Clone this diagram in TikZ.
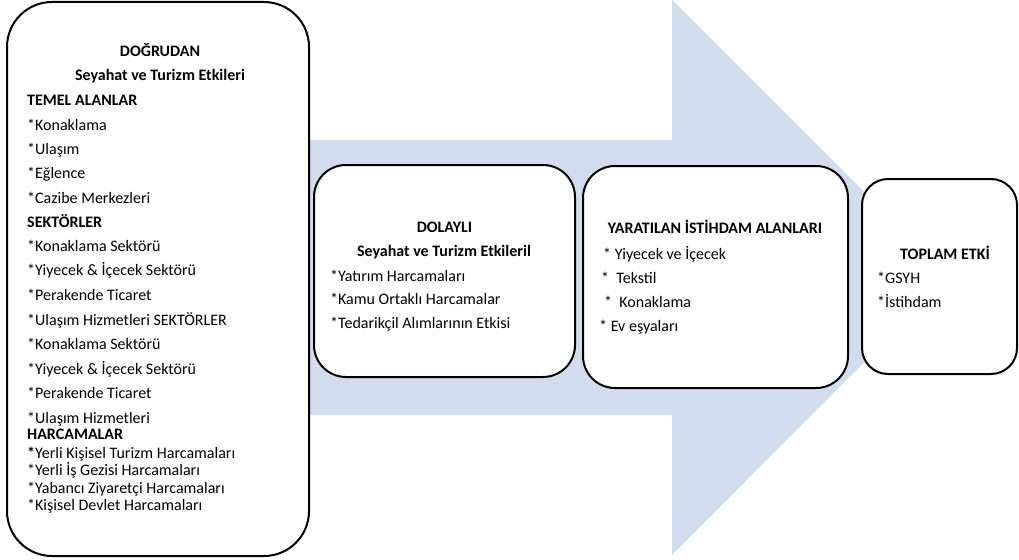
\documentclass[tikz,border=0pt]{standalone}
\usepackage{fontspec}
\setmainfont{Carlito}
\definecolor{arrowblue}{RGB}{209,220,238}
\begin{document}
\begin{tikzpicture}[x=1pt,y=-1pt,
  box/.style={draw=black,line width=2pt,fill=white,inner sep=0pt},
  txt/.style={anchor=base west,inner sep=0pt,font=\fontsize{16}{18}\selectfont},
  hdr/.style={anchor=base,inner sep=0pt,font=\fontsize{16}{18}\selectfont\bfseries},
  hdrl/.style={anchor=base west,inner sep=0pt,font=\fontsize{16}{18}\selectfont\bfseries}]
\useasboundingbox (0,0) rectangle (1019,559);
% big arrow
\fill[arrowblue] (290,140) -- (672,140) -- (672,0) -- (949,277) -- (672,555) -- (672,415) -- (290,415) -- cycle;
% boxes
\node[box,rounded corners=45pt,minimum width=302pt,minimum height=554pt] (direct) at (158,279) {};
\node[box,rounded corners=32pt,minimum width=261pt,minimum height=212pt] (indirect) at (444.5,271) {};
\node[box,rounded corners=32pt,minimum width=265pt,minimum height=222pt] (jobs) at (715.5,277) {};
\node[box,rounded corners=26pt,minimum width=155pt,minimum height=195pt] (total) at (939.5,276.5) {};
% left box text
\node[hdr] (d1) at (160,57) {DOĞRUDAN};
\node[hdr] (d2) at (160,81) {Seyahat ve Turizm Etkileri};
\node[hdrl] (d3) at (27,106) {TEMEL ALANLAR};
\node[txt] (d4) at (27,130) {*Konaklama};
\node[txt] (d5) at (27,154) {*Ulaşım};
\node[txt] (d6) at (27,178) {*Eğlence};
\node[txt] (d7) at (27,203) {*Cazibe Merkezleri};
\node[hdrl] (d8) at (27,227) {SEKTÖRLER};
\node[txt] (d9) at (27,251) {*Konaklama Sektörü};
\node[txt] (d10) at (27,275) {*Yiyecek \& İçecek Sektörü};
\node[txt] (d11) at (27,300) {*Perakende Ticaret};
\node[txt] (d12) at (27,325) {*Ulaşım Hizmetleri SEKTÖRLER};
\node[txt] (d13) at (27,349) {*Konaklama Sektörü};
\node[txt] (d14) at (27,374) {*Yiyecek \& İçecek Sektörü};
\node[txt] (d15) at (27,398) {*Perakende Ticaret};
\node[txt] (d16) at (27,423) {*Ulaşım Hizmetleri};
\node[hdrl] (d17) at (27,439) {HARCAMALAR};
\node[txt] (d18) at (27,458) {\textbf{*}Yerli Kişisel Turizm Harcamaları};
\node[txt] (d19) at (27,475) {*Yerli İş Gezisi Harcamaları};
\node[txt] (d20) at (27,493) {*Yabancı Ziyaretçi Harcamaları};
\node[txt] (d21) at (27,510) {*Kişisel Devlet Harcamaları};
% indirect box text
\node[hdr] (i1) at (444.5,232) {DOLAYLI};
\node[hdr] (i2) at (444,256) {Seyahat ve Turizm Etkileril};
\node[txt] (i3) at (330,281) {*Yatırım Harcamaları};
\node[txt] (i4) at (330,304.5) {*Kamu Ortaklı Harcamalar};
\node[txt] (i5) at (330,328) {*Tedarikçil Alımlarının Etkisi};
% jobs box text
\node[hdr] (j1) at (715,233) {YARATILAN İSTİHDAM ALANLARI};
\node[txt] (j2) at (603,259) {* Yiyecek ve İçecek};
\node[txt] (j3) at (601,283) {*\ \ Tekstil};
\node[txt] (j4) at (604,307) {*\ \ Konaklama};
\node[txt] (j5) at (599,331) {* Ev eşyaları};
% total box text
\node[hdr] (t1) at (945,259) {TOPLAM ETKİ};
\node[txt] (t2) at (877,283) {*GSYH};
\node[txt] (t3) at (877,307) {*İstihdam};
\end{tikzpicture}
\end{document}
